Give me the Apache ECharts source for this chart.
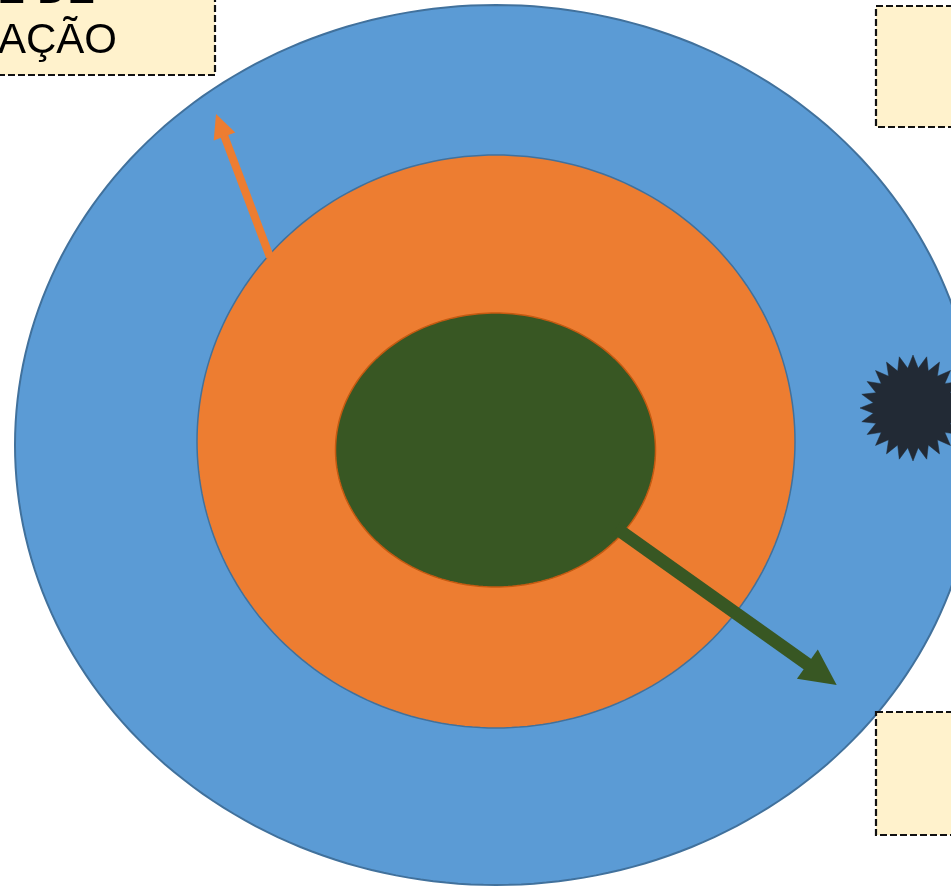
<!DOCTYPE html>
<html>
<head>
<meta charset="utf-8">
<script src="https://cdn.jsdelivr.net/npm/echarts@6/dist/echarts.min.js"></script>
<style>
html,body{margin:0;padding:0;background:#fff;}
#chart{width:951px;height:886px;}
</style>
</head>
<body>
<div id="chart"></div>
<script>
// Ellipses: [cx, cy, rx, ry] in diagram units (outer, middle, core)
const ellipses = [
  [496, 445, 481, 440],
  [496, 441.5, 299, 286.5],
  [495.5, 450, 160, 137]
];
// Arrows: [x1, y1, x2(tip), y2(tip)]
const arrows = [
  [270, 257, 216, 114],
  [616, 528, 836.7, 685]
];
// Starburst: [cx, cy, outerR, innerR, points]
const bursts = [
  [913, 408, 53, 40, 24]
];
// Boxes: [x1, y1, x2, y2]
const boxes = [
  [-10, -10, 215, 75],
  [876, 6, 965, 127],
  [876, 712, 965, 835]
];
// Text lines (right-aligned): [rightX, baselineY, text]
const texts = [
  [95, 6, "CAPACIDADE DE"],
  [117, 56, "ATUAÇÃO"]
];

const ellipseStyles = [
  {fill: '#5b9bd5', stroke: '#41719c', lineWidth: 2},
  {fill: '#ed7d31', stroke: '#41719c', lineWidth: 1.5},
  {fill: '#385723', stroke: '#c55a11', lineWidth: 1.5}
];
const arrowStyles = [
  {color: '#ed7d31', width: 8, headLen: 24, headHalf: 11.5},
  {color: '#385723', width: 13, headLen: 36, headHalf: 18}
];

const chart = echarts.init(document.getElementById('chart'));

function ellipseItem(params, api) {
  const d = ellipses[params.dataIndex];
  const st = ellipseStyles[params.dataIndex];
  const pts = [];
  const N = 240;
  for (let i = 0; i < N; i++) {
    const t = i / N * Math.PI * 2;
    pts.push(api.coord([d[0] + d[2] * Math.cos(t), d[1] + d[3] * Math.sin(t)]));
  }
  return {type: 'polygon', shape: {points: pts}, style: {fill: st.fill, stroke: st.stroke, lineWidth: st.lineWidth}};
}

function arrowItem(params, api) {
  const d = arrows[params.dataIndex];
  const st = arrowStyles[params.dataIndex];
  const p1 = api.coord([d[0], d[1]]);
  const p2 = api.coord([d[2], d[3]]);
  const dx = p2[0] - p1[0], dy = p2[1] - p1[1];
  const L = Math.sqrt(dx * dx + dy * dy);
  const ux = dx / L, uy = dy / L;
  const nx = -uy, ny = ux;
  const bx = p2[0] - ux * st.headLen, by = p2[1] - uy * st.headLen;
  return {
    type: 'group',
    children: [
      {type: 'line', shape: {x1: p1[0], y1: p1[1], x2: bx + ux * 2, y2: by + uy * 2},
       style: {stroke: st.color, lineWidth: st.width, lineCap: 'butt'}},
      {type: 'polygon', shape: {points: [
        [p2[0], p2[1]],
        [bx + nx * st.headHalf, by + ny * st.headHalf],
        [bx - nx * st.headHalf, by - ny * st.headHalf]
      ]}, style: {fill: st.color}}
    ]
  };
}

function burstItem(params, api) {
  const d = bursts[params.dataIndex];
  const pts = [];
  const n = d[4];
  for (let i = 0; i < n * 2; i++) {
    const r = i % 2 === 0 ? d[2] : d[3];
    const t = i / (n * 2) * Math.PI * 2 - Math.PI / 2;
    pts.push(api.coord([d[0] + r * Math.cos(t), d[1] + r * Math.sin(t)]));
  }
  return {type: 'polygon', shape: {points: pts}, style: {fill: '#222a35', stroke: '#222a35', lineWidth: 0.5}};
}

function boxItem(params, api) {
  const d = boxes[params.dataIndex];
  const a = api.coord([d[0], d[1]]);
  const b = api.coord([d[2], d[3]]);
  return {type: 'rect', shape: {x: a[0], y: a[1], width: b[0] - a[0], height: b[1] - a[1]},
    style: {fill: '#fff2cc', stroke: '#111', lineWidth: 2.2, lineDash: [7, 3]}};
}

function textItem(params, api) {
  const d = texts[params.dataIndex];
  const p = api.coord([d[0], d[1]]);
  return {type: 'text', x: p[0], y: p[1] - 15,
    style: {text: d[2], fill: '#000', fontSize: 42, fontFamily: '"Liberation Sans", Arial, sans-serif',
      align: 'right', verticalAlign: 'middle'}};
}

chart.setOption({
  animation: false,
  grid: {left: 0, right: 0, top: 0, bottom: 0},
  xAxis: {type: 'value', min: 0, max: 951, show: false},
  yAxis: {type: 'value', min: 0, max: 886, inverse: true, show: false},
  series: [
    {type: 'custom', renderItem: ellipseItem, data: ellipses.map(e => [e[0], e[1]]), clip: false, z: 1},
    {type: 'custom', renderItem: arrowItem, data: arrows.map(a => [a[0], a[1]]), clip: false, z: 2},
    {type: 'custom', renderItem: burstItem, data: bursts.map(b => [b[0], b[1]]), clip: false, z: 3},
    {type: 'custom', renderItem: boxItem, data: boxes.map(b => [b[0], b[1]]), clip: false, z: 4},
    {type: 'custom', renderItem: textItem, data: texts.map(t => [t[0], t[1]]), clip: false, z: 5}
  ]
});
</script>
</body>
</html>
